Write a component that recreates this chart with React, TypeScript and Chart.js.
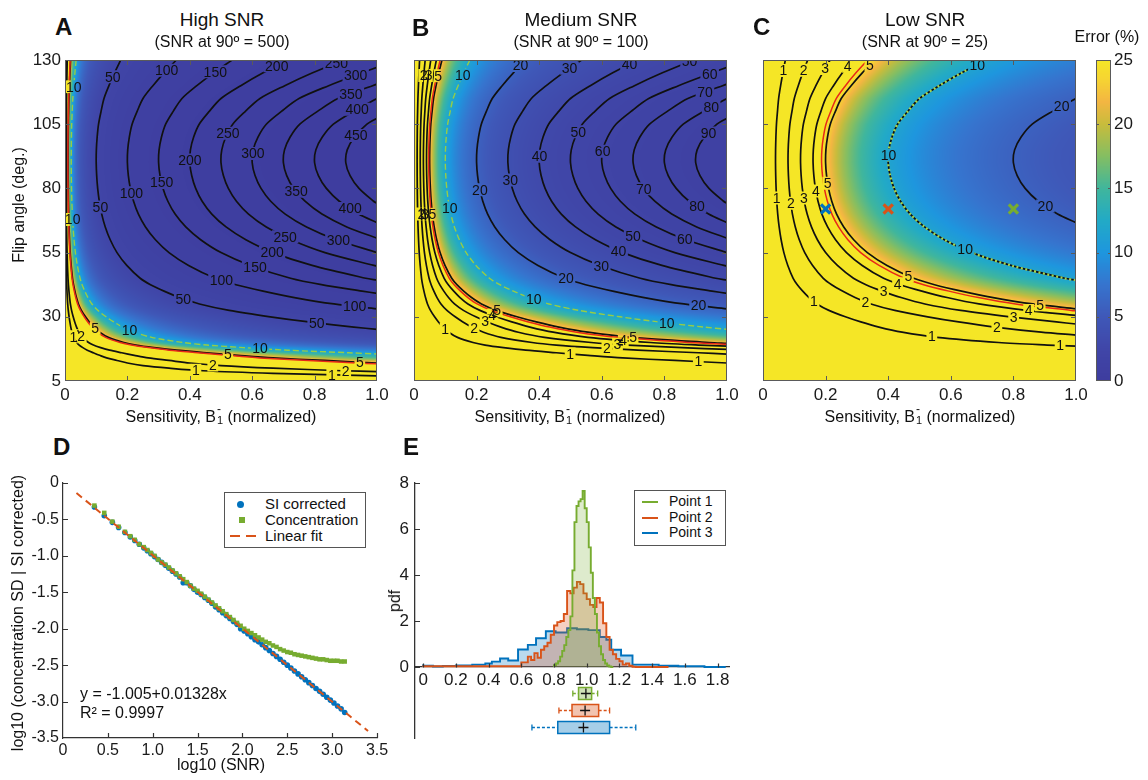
import React, { useEffect, useRef } from "react";
import { Chart, registerables } from "chart.js";

Chart.register(...registerables);

const FONT = '"Liberation Sans", Arial, Helvetica, sans-serif';
Chart.defaults.font.family = FONT;
Chart.defaults.color = "#1a1a1a";

/* ================= DATA: panels A–C (SNR maps) ================= */
const flipAngles = [5, 6, 7, 8, 9, 10, 11, 12, 13, 14, 15, 16, 17, 18, 19, 20, 22, 24, 26, 28, 30, 32.5, 35, 37.5, 40, 42.5, 45, 50, 55, 60, 65, 70, 75, 80, 85, 90, 95, 100, 105, 110, 115, 120, 125, 130];
const b1Nodes = [0, 0.5, 1];

// SNR read at sensitivity B1 = 0.5 and B1 = 1.0 for every flip-angle row
const highSnrHalf = [0, 0.25, 0.5, 0.75, 1.13, 1.5, 2, 2.5, 3, 3.75, 4.5, 5.5, 7, 8.75, 11, 13.25, 18, 22.5, 27, 32, 38, 47.5, 58, 68, 78.75, 91.25, 103.75, 126.25, 150, 172.5, 193.75, 212.5, 227.5, 238.75, 246.25, 250, 248.75, 242.5, 232.5, 216.25, 200, 177.5, 157.5, 140];
const highSnrFull = [0, 0.5, 1, 1.5, 2.25, 3, 4, 5, 6, 7.5, 9, 11, 14, 17.5, 22, 26.5, 36, 45, 54, 64, 76, 95, 116, 136, 157.5, 182.5, 207.5, 252.5, 300, 345, 387.5, 425, 455, 477.5, 492.5, 500, 497.5, 485, 465, 432.5, 400, 355, 315, 280];
const mediumSnrHalf = [0, 0.05, 0.1, 0.15, 0.23, 0.3, 0.4, 0.5, 0.6, 0.75, 0.9, 1.1, 1.4, 1.75, 2.2, 2.65, 3.6, 4.5, 5.4, 6.4, 7.6, 9.5, 11.6, 13.6, 15.75, 18.25, 20.75, 25.25, 30, 34.5, 38.75, 42.5, 45.5, 47.75, 49.25, 50, 49.75, 48.5, 46.5, 43.25, 40, 35.5, 31.5, 28];
const mediumSnrFull = [0, 0.1, 0.2, 0.3, 0.45, 0.6, 0.8, 1, 1.2, 1.5, 1.8, 2.2, 2.8, 3.5, 4.4, 5.3, 7.2, 9, 10.8, 12.8, 15.2, 19, 23.2, 27.2, 31.5, 36.5, 41.5, 50.5, 60, 69, 77.5, 85, 91, 95.5, 98.5, 100, 99.5, 97, 93, 86.5, 80, 71, 63, 56];
const lowSnrHalf = [0, 0.013, 0.025, 0.038, 0.056, 0.075, 0.1, 0.125, 0.15, 0.188, 0.225, 0.275, 0.35, 0.438, 0.55, 0.663, 0.9, 1.125, 1.35, 1.6, 1.9, 2.375, 2.9, 3.4, 3.94, 4.56, 5.19, 6.31, 7.5, 8.63, 9.69, 10.63, 11.38, 11.94, 12.31, 12.5, 12.44, 12.13, 11.63, 10.81, 10, 8.88, 7.88, 7];
const lowSnrFull = [0, 0.025, 0.05, 0.075, 0.11, 0.15, 0.2, 0.25, 0.3, 0.375, 0.45, 0.55, 0.7, 0.875, 1.1, 1.33, 1.8, 2.25, 2.7, 3.2, 3.8, 4.75, 5.8, 6.8, 7.88, 9.13, 10.38, 12.63, 15, 17.25, 19.38, 21.25, 22.75, 23.88, 24.63, 25, 24.88, 24.25, 23.25, 21.63, 20, 17.75, 15.75, 14];

const highLevels = [1, 2, 5, 10, 50, 100, 150, 200, 250, 300, 350, 400, 450];
const mediumLevels = [1, 2, 3, 4, 5, 10, 20, 30, 40, 50, 60, 70, 80, 90];
const lowLevels = [1, 2, 3, 4, 5, 10, 20];

const errorTimesSnr = 117; // Error (%) x SNR
const errorCap = 25; // colour scale top (%)

// contour label spots: [level, B1, flip angle]
const highLabelSpots = [
  [50, 0.154, 123.4], [100, 0.337, 124.7], [150, 0.486, 124.7], [200, 0.684, 126.5], [250, 0.876, 127], [300, 0.935, 123], [350, 0.919, 116], [400, 0.94, 110], [450, 0.94, 99.7],
  [250, 0.529, 101], [200, 0.406, 91], [300, 0.609, 93.5], [150, 0.315, 82.4], [100, 0.219, 78.5], [350, 0.737, 78.5], [50, 0.112, 72.7], [10, 0.037, 119.5], [10, 0.037, 68],
  [400, 0.913, 72], [300, 0.876, 59.7], [250, 0.705, 61], [200, 0.662, 54.7], [150, 0.609, 49.4], [100, 0.502, 44.5], [50, 0.379, 37.1], [100, 0.929, 34.5], [50, 0.807, 28],
  [10, 0.208, 25.2], [10, 0.625, 17.8], [5, 0.1, 26], [2, 0.064, 23.6], [1, 0.026, 22.2], [5, 0.523, 16.4], [2, 0.475, 13.2], [1, 0.42, 10], [5, 0.945, 12.5], [2, 0.9, 10.5], [1, 0.855, 7.3],
];
const mediumLabelSpots = [
  [20, 0.349, 126.8], [30, 0.504, 125.5], [40, 0.695, 126.8], [50, 0.887, 127.4], [60, 0.946, 124.2], [70, 0.93, 117.3], [80, 0.951, 111.3], [90, 0.94, 101.7], [10, 0.168, 123.5],
  [50, 0.53, 101.7], [40, 0.403, 92.5], [60, 0.61, 94.4], [30, 0.312, 83.4], [20, 0.211, 79.5], [70, 0.722, 78.5], [10, 0.115, 72.4], [80, 0.898, 71.8],
  [50, 0.695, 60.4], [60, 0.86, 58.8], [40, 0.648, 54.3], [30, 0.594, 48.2], [20, 0.482, 43.5], [20, 0.908, 33.2], [10, 0.381, 36.2], [10, 0.807, 26.7],
  [5, 0.264, 31.7], [4, 0.248, 30.1], [3, 0.227, 28.4], [2, 0.195, 26.5], [1, 0.094, 24.5], [5, 0.7, 22.3], [4, 0.668, 20], [3, 0.65, 19], [2, 0.616, 17.1], [1, 0.498, 14.2], [1, 0.908, 11.6],
  [2, 0.029, 124], [3, 0.043, 124], [5, 0.071, 124], [2, 0.026, 70], [3, 0.038, 70], [5, 0.06, 70],
];
const lowLabelSpots = [
  [1, 0.06, 126], [2, 0.14, 125.5], [3, 0.209, 126], [4, 0.278, 126.8], [5, 0.352, 126.8], [10, 0.688, 127.4], [20, 0.954, 112], [10, 0.4, 93],
  [5, 0.203, 81.9], [4, 0.166, 78.9], [3, 0.134, 76.3], [2, 0.097, 74.4], [1, 0.042, 76.3], [20, 0.896, 72], [10, 0.64, 54.7],
  [5, 0.464, 45.9], [4, 0.427, 42], [3, 0.384, 39.4], [2, 0.326, 35.5], [1, 0.156, 34.9], [1, 0.539, 22], [5, 0.885, 34.2], [4, 0.848, 31.6], [3, 0.8, 29], [2, 0.747, 25.8], [1, 0.949, 18.1],
];

// sampled points in panel C (Point 1, 2, 3)
const pointNames = ["Point 1", "Point 2", "Point 3"];
const pointB1 = [0.8, 0.4, 0.2];
const pointFlip = [72, 72, 72];

/* ================= DATA: panel D ================= */
const logSnr = [0.35, 0.46, 0.55, 0.62, 0.69, 0.75, 0.8, 0.85, 0.9, 0.94, 0.98, 1.02, 1.06, 1.1, 1.14, 1.18, 1.22, 1.26, 1.3, 1.34, 1.38, 1.42, 1.46, 1.5, 1.54, 1.58, 1.62, 1.66, 1.7, 1.74, 1.78, 1.82, 1.86, 1.9, 1.94, 1.98, 2.02, 2.06, 2.1, 2.14, 2.18, 2.22, 2.26, 2.3, 2.34, 2.38, 2.42, 2.46, 2.5, 2.54, 2.58, 2.62, 2.66, 2.7, 2.74, 2.78, 2.82, 2.86, 2.9, 2.94, 2.98, 3.02, 3.06, 3.1, 3.14];
const siCorrected = [-0.33, -0.45, -0.54, -0.61, -0.68, -0.74, -0.79, -0.84, -0.89, -0.93, -0.97, -1.01, -1.05, -1.09, -1.13, -1.17, -1.21, -1.25, -1.29, -1.37, -1.37, -1.41, -1.46, -1.5, -1.53, -1.57, -1.61, -1.65, -1.7, -1.74, -1.78, -1.82, -1.86, -1.9, -1.94, -2.0, -2.03, -2.07, -2.11, -2.15, -2.18, -2.22, -2.26, -2.3, -2.34, -2.38, -2.42, -2.46, -2.5, -2.54, -2.58, -2.62, -2.66, -2.7, -2.74, -2.78, -2.82, -2.86, -2.9, -2.94, -2.98, -3.02, -3.06, -3.1, -3.15];
const concentration = [-0.31, -0.41, -0.53, -0.6, -0.67, -0.73, -0.78, -0.84, -0.88, -0.92, -0.96, -1.0, -1.05, -1.09, -1.12, -1.16, -1.2, -1.24, -1.28, -1.32, -1.36, -1.41, -1.45, -1.48, -1.52, -1.56, -1.6, -1.64, -1.68, -1.72, -1.76, -1.8, -1.84, -1.88, -1.92, -1.96, -2.0, -2.03, -2.06, -2.09, -2.12, -2.15, -2.18, -2.2, -2.23, -2.25, -2.28, -2.3, -2.32, -2.33, -2.35, -2.36, -2.37, -2.38, -2.39, -2.4, -2.41, -2.42, -2.42, -2.43, -2.44, -2.44, -2.44, -2.45, -2.45];
const fitLogSnr = [0.15, 3.4];
const fitValues = [-0.138, -3.404];
const fitEquation = "y = -1.005+0.01328x";
const fitR2 = "R² = 0.9997";

/* ================= DATA: panel E ================= */
const p1Edges = [0.8, 0.8125, 0.825, 0.8375, 0.85, 0.8625, 0.875, 0.8875, 0.9, 0.9125, 0.925, 0.9375, 0.95, 0.9625, 0.975, 0.9875, 1.0, 1.0125, 1.025, 1.0375, 1.05, 1.0625, 1.075, 1.0875, 1.1, 1.1125, 1.125, 1.1375, 1.15];
const p1Heights = [0.03, 0.08, 0.15, 0.25, 0.45, 0.7, 0.95, 1.3, 1.6, 2.2, 4.2, 6.3, 7.0, 7.2, 7.3, 7.65, 6.9, 6.3, 5.2, 4.1, 3.0, 2.3, 1.5, 0.9, 0.55, 0.3, 0.15, 0.06, 0.02];
const p1End = 1.1625;
const p2Edges = [0.0, 0.6, 0.64, 0.66, 0.68, 0.7, 0.72, 0.74, 0.76, 0.78, 0.8, 0.82, 0.84, 0.86, 0.88, 0.9, 0.92, 0.94, 0.96, 0.98, 1.0, 1.02, 1.04, 1.06, 1.08, 1.1, 1.12, 1.14, 1.16, 1.18, 1.2, 1.22, 1.24, 1.26, 1.28, 1.3];
const p2Heights = [0.01, 0.03, 0.2, 0.45, 0.3, 0.6, 0.4, 0.75, 0.9, 1.05, 1.4, 1.8, 1.95, 2.0, 2.3, 3.3, 3.2, 3.45, 3.7, 3.6, 3.2, 2.95, 2.7, 2.6, 3.0, 2.8, 1.9, 1.3, 0.75, 0.55, 0.35, 0.25, 0.1, 0.15, 0.05, 0.01];
const p2End = 1.5;
const p3Edges = [0.0, 0.06, 0.12, 0.2, 0.3, 0.38, 0.42, 0.47, 0.52, 0.58, 0.64, 0.69, 0.75, 0.81, 0.88, 0.94, 1.01, 1.08, 1.12, 1.15, 1.21, 1.28, 1.44, 1.56, 1.72];
const p3Heights = [0.12, 0.05, 0.02, 0.04, 0.06, 0.1, 0.15, 0.23, 0.37, 0.28, 0.76, 0.96, 1.25, 1.55, 1.5, 1.68, 1.64, 1.6, 1.3, 1.18, 0.75, 0.5, 0.1, 0.05, 0.03];
const p3End = 1.85;
const histTicks = [0, 0.2, 0.4, 0.6, 0.8, 1.0, 1.2, 1.4, 1.6, 1.8];
const pdfTicks = [0, 2, 4, 6, 8];
// box plots (Point 1, 2, 3)
const boxLow = [0.915, 0.83, 0.665];
const boxQ1 = [0.95, 0.91, 0.823];
const boxMedian = [0.995, 0.99, 0.98];
const boxQ3 = [1.03, 1.073, 1.14];
const boxHigh = [1.067, 1.14, 1.3];

/* ================= styling ================= */
const pointColors = ["rgb(119,172,48)", "rgb(217,83,25)", "rgb(0,114,189)"];
const pointFills = ["rgba(119,172,48,0.24)", "rgba(217,83,25,0.27)", "rgba(0,114,189,0.27)"];
const boxFills = ["rgba(119,172,48,0.35)", "rgba(217,83,25,0.35)", "rgba(0,114,189,0.35)"];
const cmapStops = [
  [0.0, 62, 60, 158], [0.1, 64, 70, 168], [0.2, 63, 88, 184], [0.3, 54, 116, 206], [0.4, 30, 150, 222], [0.5, 34, 170, 198],
  [0.6, 64, 182, 156], [0.7, 132, 190, 98], [0.8, 200, 188, 60], [0.87, 243, 182, 66], [0.94, 246, 212, 50], [1.0, 245, 230, 38],
];

type P = { x: number; y: number };

function errorColor(t: number) {
  const v = Math.max(0, Math.min(1, t));
  for (let k = 0; k < cmapStops.length - 1; k++) {
    const a = cmapStops[k], b = cmapStops[k + 1];
    if (v <= b[0]) {
      const f = (v - a[0]) / (b[0] - a[0]);
      return [a[1] + (b[1] - a[1]) * f, a[2] + (b[2] - a[2]) * f, a[3] + (b[3] - a[3]) * f];
    }
  }
  const l = cmapStops[cmapStops.length - 1];
  return [l[1], l[2], l[3]];
}

function snrGrid(half: number[], full: number[]) {
  return flipAngles.map((_, i) => [0, half[i], full[i]]);
}

function locate(nodes: number[], v: number): [number, number] {
  let i = 0;
  while (i < nodes.length - 2 && v > nodes[i + 1]) i++;
  const t = Math.max(0, Math.min(1, (v - nodes[i]) / (nodes[i + 1] - nodes[i])));
  return [i, t];
}

function sampleSnr(grid: number[][], b1: number, flip: number) {
  const [r, tr] = locate(flipAngles, flip);
  const [c, tc] = locate(b1Nodes, b1);
  const lo = grid[r][c] * (1 - tc) + grid[r][c + 1] * tc;
  const hi = grid[r + 1][c] * (1 - tc) + grid[r + 1][c + 1] * tc;
  return lo * (1 - tr) + hi * tr;
}

function traceContour(level: number, grid: number[][]): P[][] {
  const last = b1Nodes.length - 1;
  const segs: P[][] = [];
  let cur: P[] | null = null;
  const cross = (row: number[]) => {
    for (let c = 0; c < last; c++) {
      const v0 = row[c], v1 = row[c + 1];
      if (v1 !== v0 && (level - v0) * (level - v1) <= 0) return b1Nodes[c] + ((level - v0) / (v1 - v0)) * (b1Nodes[c + 1] - b1Nodes[c]);
    }
    return null;
  };
  const edge = (r1: number, r2: number) => {
    const v1 = grid[r1][last], v2 = grid[r2][last];
    return flipAngles[r1] + ((level - v1) / (v2 - v1)) * (flipAngles[r2] - flipAngles[r1]);
  };
  for (let r = flipAngles.length - 1; r >= 0; r--) {
    const x = cross(grid[r]);
    if (x !== null) {
      if (!cur) {
        cur = [];
        if (r < flipAngles.length - 1) cur.push({ x: b1Nodes[last], y: edge(r + 1, r) });
      }
      cur.push({ x, y: flipAngles[r] });
    } else if (cur) {
      cur.push({ x: b1Nodes[last], y: edge(r + 1, r) });
      segs.push(cur);
      cur = null;
    }
  }
  if (cur) segs.push(cur);
  return segs;
}

function snap(segs: P[][], px: number, py: number, xs: any, ys: any) {
  let best = { d: Infinity, x: px, y: py };
  for (const seg of segs) {
    for (let k = 0; k < seg.length - 1; k++) {
      const x1 = xs.getPixelForValue(seg[k].x), y1 = ys.getPixelForValue(seg[k].y);
      const x2 = xs.getPixelForValue(seg[k + 1].x), y2 = ys.getPixelForValue(seg[k + 1].y);
      const dx = x2 - x1, dy = y2 - y1;
      const len2 = dx * dx + dy * dy;
      let t = len2 > 0 ? ((px - x1) * dx + (py - y1) * dy) / len2 : 0;
      t = Math.max(0, Math.min(1, t));
      const qx = x1 + t * dx, qy = y1 + t * dy;
      const d = (qx - px) ** 2 + (qy - py) ** 2;
      if (d < best.d) best = { d, x: qx, y: qy };
    }
  }
  return best;
}

const fmt1 = (v: any) => (Math.abs(Number(v)) < 1e-9 ? "0" : Number(v).toFixed(1));

function drawFrame(chart: any) {
  const { ctx, chartArea: a } = chart;
  const xs = chart.scales.x, ys = chart.scales.y;
  ctx.save();
  ctx.strokeStyle = "#5a5a5a";
  ctx.lineWidth = 1;
  ctx.strokeRect(a.left + 0.5, a.top + 0.5, a.right - a.left - 1, a.bottom - a.top - 1);
  ctx.beginPath();
  xs.ticks.forEach((t: any) => {
    const p = Math.round(xs.getPixelForValue(t.value)) + 0.5;
    if (p < a.left + 2 || p > a.right - 2) return;
    ctx.moveTo(p, a.bottom); ctx.lineTo(p, a.bottom - 5);
    ctx.moveTo(p, a.top); ctx.lineTo(p, a.top + 5);
  });
  ys.ticks.forEach((t: any) => {
    const p = Math.round(ys.getPixelForValue(t.value)) + 0.5;
    if (p < a.top + 2 || p > a.bottom - 2) return;
    ctx.moveTo(a.left, p); ctx.lineTo(a.left + 5, p);
    ctx.moveTo(a.right, p); ctx.lineTo(a.right - 5, p);
  });
  ctx.stroke();
  ctx.restore();
}

const heatPanels = [
  { key: "A", half: highSnrHalf, full: highSnrFull, levels: highLevels, labels: highLabelSpots, yLabels: true, blackTen: false, markers: false,
    canvas: { left: 0, top: 40, width: 400, height: 390 }, area: { left: 65, top: 60, right: 377, bottom: 381 } },
  { key: "B", half: mediumSnrHalf, full: mediumSnrFull, levels: mediumLevels, labels: mediumLabelSpots, yLabels: false, blackTen: false, markers: false,
    canvas: { left: 395, top: 40, width: 350, height: 390 }, area: { left: 414, top: 60, right: 727, bottom: 381 } },
  { key: "C", half: lowSnrHalf, full: lowSnrFull, levels: lowLevels, labels: lowLabelSpots, yLabels: false, blackTen: true, markers: true,
    canvas: { left: 745, top: 40, width: 350, height: 390 }, area: { left: 763, top: 60, right: 1076, bottom: 381 } },
];

function makeHeatChart(canvas: HTMLCanvasElement, p: any) {
  const grid = snrGrid(p.half, p.full);
  const segsByLevel = new Map<number, P[][]>();
  p.levels.forEach((l: number) => segsByLevel.set(l, traceContour(l, grid)));
  const redSegs = traceContour(errorTimesSnr / errorCap, grid);
  const line = (seg: P[], color: string, width: number, dash: number[] = []) => ({
    data: seg, borderColor: color, borderWidth: width, borderDash: dash, pointRadius: 0, tension: 0.3, fill: false, clip: 0,
  });
  const datasets: any[] = [];
  if (p.markers) {
    pointB1.forEach((b, i) =>
      datasets.push({ data: [{ x: b, y: pointFlip[i] }], showLine: false, pointStyle: "crossRot", pointRadius: 6.5, pointBorderWidth: 3.2,
        pointBorderColor: pointColors[i], borderColor: pointColors[i], backgroundColor: pointColors[i] })
    );
  }
  const tenSegs = segsByLevel.get(10) || [];
  tenSegs.forEach((s) => datasets.push(p.blackTen ? line(s, "rgb(165,212,80)", 2.4, [2, 2.5]) : line(s, "rgb(150,205,70)", 1.4, [6, 3])));
  redSegs.forEach((s) => datasets.push(line(s, "rgb(232,40,25)", 1.5)));
  p.levels.forEach((l: number) => {
    if (l === 10 && !p.blackTen) return;
    (segsByLevel.get(l) || []).forEach((s) => datasets.push(line(s, "#111", 1.7)));
  });

  let boxes: any[] = [];
  const plugin = {
    id: "heat" + p.key,
    beforeDatasetsDraw(chart: any) {
      const { ctx, chartArea: a } = chart;
      const xs = chart.scales.x, ys = chart.scales.y;
      const L = Math.round(a.left), T = Math.round(a.top);
      const W = Math.round(a.right) - L, H = Math.round(a.bottom) - T;
      const off = document.createElement("canvas");
      off.width = W; off.height = H;
      const octx = off.getContext("2d")!;
      const img = octx.createImageData(W, H);
      for (let j = 0; j < H; j++) {
        const flip = ys.getValueForPixel(T + j + 0.5);
        for (let i = 0; i < W; i++) {
          const snr = sampleSnr(grid, xs.getValueForPixel(L + i + 0.5), flip);
          const err = snr > 0 ? Math.min(errorCap, errorTimesSnr / snr) : errorCap;
          const c = errorColor(err / errorCap);
          const k = (j * W + i) * 4;
          img.data[k] = c[0]; img.data[k + 1] = c[1]; img.data[k + 2] = c[2]; img.data[k + 3] = 255;
        }
      }
      octx.putImageData(img, 0, 0);
      ctx.drawImage(off, L, T);
      ctx.font = `14px ${FONT}`;
      boxes = p.labels.map((spot: number[]) => {
        const [lvl, b, f] = spot;
        const s = snap(segsByLevel.get(lvl) || [], xs.getPixelForValue(b), ys.getPixelForValue(f), xs, ys);
        const text = String(lvl);
        return { x: s.x, y: s.y, w: ctx.measureText(text).width + 3, h: 13, text };
      });
      ctx.save();
      ctx.beginPath();
      ctx.rect(a.left - 3, a.top - 3, a.right - a.left + 6, a.bottom - a.top + 6);
      boxes.forEach((bx) => ctx.rect(bx.x - bx.w / 2, bx.y - bx.h / 2, bx.w, bx.h));
      ctx.clip("evenodd");
    },
    afterDatasetsDraw(chart: any) {
      const { ctx, chartArea: a } = chart;
      ctx.restore();
      ctx.save();
      ctx.beginPath();
      ctx.rect(a.left, a.top, a.right - a.left, a.bottom - a.top);
      ctx.clip();
      ctx.fillStyle = "#111";
      ctx.font = `14px ${FONT}`;
      ctx.textAlign = "center";
      ctx.textBaseline = "middle";
      boxes.forEach((bx) => ctx.fillText(bx.text, bx.x, bx.y + 1));
      ctx.restore();
      drawFrame(chart);
    },
  };

  const cv = p.canvas, ar = p.area;
  return new Chart(canvas, {
    type: "line",
    data: { datasets },
    options: {
      responsive: false, animation: false, events: [],
      layout: { padding: { top: ar.top - cv.top, right: cv.left + cv.width - ar.right, left: 0, bottom: 0 } },
      plugins: { legend: { display: false }, tooltip: { enabled: false } },
      scales: {
        x: {
          type: "linear", min: 0, max: 1,
          ticks: { stepSize: 0.2, padding: 4, font: { size: 17 }, color: "#1a1a1a", maxRotation: 0, autoSkip: false, callback: fmt1 },
          grid: { display: false, drawTicks: false }, border: { display: false },
          afterFit: (s: any) => { s.height = cv.top + cv.height - ar.bottom; },
        },
        y: {
          type: "linear", min: 5, max: 130,
          ticks: { stepSize: 25, padding: 4, font: { size: 17 }, color: "#1a1a1a", display: p.yLabels },
          grid: { display: false, drawTicks: false }, border: { display: false },
          afterFit: (s: any) => { s.width = ar.left - cv.left; },
        },
      },
    } as any,
    plugins: [plugin],
  } as any);
}

function makeColorbar(canvas: HTMLCanvasElement) {
  const plugin = {
    id: "colorbar",
    afterDraw(chart: any) {
      const { ctx, chartArea: a } = chart;
      const ys = chart.scales.y;
      for (let py = Math.floor(a.top); py < Math.ceil(a.bottom); py++) {
        const c = errorColor(ys.getValueForPixel(py + 0.5) / errorCap);
        ctx.fillStyle = `rgb(${c[0]},${c[1]},${c[2]})`;
        ctx.fillRect(a.left, py, a.right - a.left, 1);
      }
      ctx.save();
      ctx.strokeStyle = "#5a5a5a";
      ctx.lineWidth = 1;
      ctx.strokeRect(a.left + 0.5, a.top + 0.5, a.right - a.left - 1, a.bottom - a.top - 1);
      ctx.beginPath();
      ys.ticks.forEach((t: any) => {
        const p = Math.round(ys.getPixelForValue(t.value)) + 0.5;
        if (p < a.top + 2 || p > a.bottom - 2) return;
        ctx.moveTo(a.left, p); ctx.lineTo(a.left + 3, p);
        ctx.moveTo(a.right, p); ctx.lineTo(a.right - 3, p);
      });
      ctx.stroke();
      ctx.restore();
    },
  };
  return new Chart(canvas, {
    type: "line",
    data: { datasets: [] },
    options: {
      responsive: false, animation: false, events: [],
      layout: { padding: { top: 20, bottom: 29, left: 11, right: 0 } },
      plugins: { legend: { display: false }, tooltip: { enabled: false } },
      scales: {
        x: { type: "linear", display: false, min: 0, max: 1 },
        y: {
          type: "linear", position: "right", min: 0, max: errorCap,
          ticks: { stepSize: 5, padding: 3, font: { size: 17 }, color: "#1a1a1a" },
          grid: { display: false, drawTicks: false }, border: { display: false },
          afterFit: (s: any) => { s.width = 37; },
        },
      },
    } as any,
    plugins: [plugin],
  } as any);
}

const pts = (xs: number[], ys: number[]) => xs.map((x, i) => ({ x, y: ys[i] }));

function makeSnrFit(canvas: HTMLCanvasElement) {
  const ticksPlugin = {
    id: "ticksD",
    afterDraw(chart: any) {
      const { ctx, chartArea: a } = chart;
      const xs = chart.scales.x, ys = chart.scales.y;
      ctx.save();
      ctx.strokeStyle = "#333";
      ctx.lineWidth = 1.2;
      ctx.beginPath();
      xs.ticks.forEach((t: any) => {
        const p = Math.round(xs.getPixelForValue(t.value)) + 0.5;
        if (p < a.left + 2) return;
        ctx.moveTo(p, a.bottom); ctx.lineTo(p, a.bottom - 5);
      });
      ys.ticks.forEach((t: any) => {
        const p = Math.round(ys.getPixelForValue(t.value)) + 0.5;
        if (p > a.bottom - 2) return;
        ctx.moveTo(a.left, p); ctx.lineTo(a.left + 5, p);
      });
      ctx.stroke();
      ctx.restore();
    },
  };
  return new Chart(canvas, {
    type: "line",
    data: {
      datasets: [
        { label: "Linear fit", data: pts(fitLogSnr, fitValues), borderColor: pointColors[1], borderWidth: 2, borderDash: [7, 5], pointRadius: 0, fill: false },
        { label: "Concentration", data: pts(logSnr, concentration), showLine: false, pointStyle: "rect", pointRadius: 3.2, pointBorderWidth: 0, backgroundColor: pointColors[0], borderColor: pointColors[0] },
        { label: "SI corrected", data: pts(logSnr, siCorrected), showLine: false, pointStyle: "circle", pointRadius: 2.8, pointBorderWidth: 0, backgroundColor: pointColors[2], borderColor: pointColors[2] },
      ],
    },
    options: {
      responsive: false, animation: false, events: [],
      layout: { padding: { top: 23, right: 23, left: 0, bottom: 0 } },
      plugins: { legend: { display: false }, tooltip: { enabled: false } },
      scales: {
        x: {
          type: "linear", min: 0, max: 3.5,
          ticks: { stepSize: 0.5, padding: 3, font: { size: 16 }, color: "#1a1a1a", maxRotation: 0, autoSkip: false, callback: fmt1 },
          grid: { display: false, drawTicks: false }, border: { display: true, color: "#333", width: 1.2 },
          afterFit: (s: any) => { s.height = 42; },
        },
        y: {
          type: "linear", min: -3.5, max: 0,
          ticks: { stepSize: 0.5, padding: 4, font: { size: 16 }, color: "#1a1a1a", callback: fmt1 },
          grid: { display: false, drawTicks: false }, border: { display: true, color: "#333", width: 1.2 },
          afterFit: (s: any) => { s.width = 63; },
        },
      },
    } as any,
    plugins: [ticksPlugin],
  } as any);
}

function makeHistogram(canvas: HTMLCanvasElement) {
  const stepPts = (edges: number[], heights: number[], end: number) => [
    { x: edges[0], y: 0 }, ...edges.map((e, i) => ({ x: e, y: heights[i] })), { x: end, y: 0 },
  ];
  const boxRowsY = [-1.13, -1.87, -2.6];
  const plugin = {
    id: "boxesE",
    afterDatasetsDraw(chart: any) {
      const { ctx, chartArea: a } = chart;
      const xs = chart.scales.x, ys = chart.scales.y;
      const px = (v: number) => xs.getPixelForValue(v);
      ctx.save();
      ctx.strokeStyle = "#333";
      ctx.lineWidth = 1.2;
      ctx.beginPath();
      const y0 = Math.round(ys.getPixelForValue(0)) + 0.5;
      histTicks.forEach((v) => { const p = Math.round(px(v)) + 0.5; ctx.moveTo(p, y0); ctx.lineTo(p, y0 - 4); });
      pdfTicks.forEach((v) => { const p = Math.round(ys.getPixelForValue(v)) + 0.5; ctx.moveTo(a.left, p); ctx.lineTo(a.left + 5, p); });
      ctx.stroke();
      boxMedian.forEach((_, i) => {
        const yc = Math.round(ys.getPixelForValue(boxRowsY[i])) + 0.5;
        ctx.strokeStyle = pointColors[i];
        ctx.lineWidth = 1.3;
        ctx.setLineDash([3, 2]);
        ctx.beginPath();
        ctx.moveTo(px(boxLow[i]), yc); ctx.lineTo(px(boxQ1[i]), yc);
        ctx.moveTo(px(boxQ3[i]), yc); ctx.lineTo(px(boxHigh[i]), yc);
        ctx.stroke();
        ctx.setLineDash([]);
        ctx.beginPath();
        ctx.moveTo(px(boxLow[i]), yc - 3); ctx.lineTo(px(boxLow[i]), yc + 3);
        ctx.moveTo(px(boxHigh[i]), yc - 3); ctx.lineTo(px(boxHigh[i]), yc + 3);
        ctx.stroke();
        const x1 = px(boxQ1[i]), x2 = px(boxQ3[i]);
        ctx.fillStyle = boxFills[i];
        ctx.fillRect(x1, yc - 6, x2 - x1, 12);
        ctx.lineWidth = 1.5;
        ctx.strokeRect(x1, yc - 6, x2 - x1, 12);
        const m = px(boxMedian[i]);
        ctx.strokeStyle = "#111";
        ctx.lineWidth = 1.3;
        ctx.beginPath();
        ctx.moveTo(m - 5, yc); ctx.lineTo(m + 5, yc);
        ctx.moveTo(m, yc - 5); ctx.lineTo(m, yc + 5);
        ctx.stroke();
      });
      ctx.restore();
    },
  };
  const hist = (i: number, data: P[]) => ({
    label: pointNames[i], data, stepped: "after", fill: "origin", borderColor: pointColors[i], backgroundColor: pointFills[i], borderWidth: 1.9, pointRadius: 0,
  });
  return new Chart(canvas, {
    type: "line",
    data: {
      datasets: [
        hist(0, stepPts(p1Edges, p1Heights, p1End)),
        hist(1, stepPts(p2Edges, p2Heights, p2End)),
        hist(2, stepPts(p3Edges, p3Heights, p3End)),
      ],
    },
    options: {
      responsive: false, animation: false, events: [],
      layout: { padding: { top: 23, right: 31, left: 0, bottom: 42 } },
      plugins: { legend: { display: false }, tooltip: { enabled: false } },
      scales: {
        x: {
          type: "linear", min: -0.05, max: 1.87, position: { y: 0 },
          afterBuildTicks: (s: any) => { s.ticks = histTicks.map((v) => ({ value: v })); },
          ticks: { padding: 3, font: { size: 17 }, color: "#1a1a1a", maxRotation: 0, autoSkip: false, callback: fmt1 },
          grid: { display: false, drawTicks: false }, border: { display: true, color: "#333", width: 1.3 },
        },
        y: {
          type: "linear", min: -3.09, max: 8,
          afterBuildTicks: (s: any) => { s.ticks = pdfTicks.map((v) => ({ value: v })); },
          ticks: { padding: 6, font: { size: 17 }, color: "#1a1a1a", callback: (v: any) => String(v) },
          grid: { display: false, drawTicks: false }, border: { display: true, color: "#333", width: 1.3 },
          afterFit: (s: any) => { s.width = 25; },
        },
      },
    } as any,
    plugins: [plugin],
  } as any);
}

function ChartCanvas({ box, build }: any) {
  const ref = useRef<HTMLCanvasElement>(null);
  useEffect(() => {
    const c = build(ref.current);
    return () => c.destroy();
  }, []);
  return <canvas ref={ref} width={box.width} height={box.height} style={{ position: "absolute", left: box.left, top: box.top, width: box.width, height: box.height }} />;
}

function Txt({ x, y, size = 16, weight = 400, center = false, children }: any) {
  return (
    <div style={{ position: "absolute", left: x, top: y - 0.8465 * size, fontSize: size, lineHeight: `${size}px`, fontWeight: weight, whiteSpace: "nowrap", color: "#111", transform: center ? "translateX(-50%)" : undefined }}>
      {children}
    </div>
  );
}
function VTxt({ x, y, size = 16, children }: any) {
  return (
    <div style={{ position: "absolute", left: x, top: y, fontSize: size, lineHeight: `${size}px`, whiteSpace: "nowrap", color: "#111", transform: "translate(-50%, -50%) rotate(-90deg)" }}>
      {children}
    </div>
  );
}
const B1minus = (
  <span>
    B
    <span style={{ display: "inline-block", position: "relative", width: 7, height: 16 }}>
      <span style={{ position: "absolute", left: 1, top: -3, fontSize: 12, lineHeight: "12px" }}>-</span>
      <span style={{ position: "absolute", left: 1, top: 9, fontSize: 11, lineHeight: "11px" }}>1</span>
    </span>
  </span>
);

export default function App() {
  const titles = [
    { letter: "A", lx: 55, lb: 35, cx: 222, main: "High SNR", sub: "(SNR at 90º = 500)", xt: 221 },
    { letter: "B", lx: 412, lb: 36, cx: 581, main: "Medium SNR", sub: "(SNR at 90º = 100)", xt: 570 },
    { letter: "C", lx: 753, lb: 35, cx: 925, main: "Low SNR", sub: "(SNR at 90º = 25)", xt: 920 },
  ];
  return (
    <div style={{ position: "absolute", left: 0, top: 0, width: 1148, height: 780, overflow: "hidden", background: "#fff", fontFamily: FONT, color: "#111" }}>
      {heatPanels.map((p) => (
        <ChartCanvas key={p.key} box={p.canvas} build={(c: HTMLCanvasElement) => makeHeatChart(c, p)} />
      ))}
      <ChartCanvas box={{ left: 1085, top: 40, width: 63, height: 370 }} build={makeColorbar} />
      <ChartCanvas box={{ left: 0, top: 460, width: 400, height: 320 }} build={makeSnrFit} />
      <ChartCanvas box={{ left: 390, top: 460, width: 370, height: 320 }} build={makeHistogram} />

      {titles.map((t) => (
        <React.Fragment key={t.letter}>
          <Txt x={t.lx} y={t.lb} size={24} weight={700}>{t.letter}</Txt>
          <Txt x={t.cx} y={26} size={19} center>{t.main}</Txt>
          <Txt x={t.cx} y={48} size={16} center>{t.sub}</Txt>
          <Txt x={t.xt} y={420} size={16} center>Sensitivity, {B1minus} (normalized)</Txt>
        </React.Fragment>
      ))}
      <VTxt x={19} y={205} size={16}>Flip angle (deg.)</VTxt>
      <Txt x={1107} y={43} size={16} center>Error (%)</Txt>

      {/* Panel D */}
      <Txt x={53} y={455} size={24} weight={700}>D</Txt>
      <VTxt x={18} y={613} size={16}>log10 (concentration SD | SI corrected)</VTxt>
      <Txt x={221} y={771} size={16} center>log10 (SNR)</Txt>
      <Txt x={80} y={700} size={16}>{fitEquation}</Txt>
      <Txt x={80} y={719} size={16}>{fitR2}</Txt>
      <div style={{ position: "absolute", left: 224, top: 492, width: 140, height: 54, border: "1.3px solid #555", background: "#fff" }} />
      <div style={{ position: "absolute", left: 237, top: 501, width: 7, height: 7, borderRadius: "50%", background: pointColors[2] }} />
      <div style={{ position: "absolute", left: 239, top: 517, width: 6, height: 6, background: pointColors[0] }} />
      <div style={{ position: "absolute", left: 230, top: 535, width: 10, height: 2, background: pointColors[1] }} />
      <div style={{ position: "absolute", left: 246, top: 535, width: 10, height: 2, background: pointColors[1] }} />
      <Txt x={265} y={509} size={15}>SI corrected</Txt>
      <Txt x={265} y={525} size={15}>Concentration</Txt>
      <Txt x={265} y={541} size={15}>Linear fit</Txt>

      {/* Panel E */}
      <Txt x={403} y={455} size={24} weight={700}>E</Txt>
      <VTxt x={395} y={601} size={16}>pdf</VTxt>
      <div style={{ position: "absolute", left: 634, top: 490, width: 90, height: 54, border: "1.3px solid #555", background: "#fff" }} />
      {pointNames.map((n, i) => (
        <React.Fragment key={n}>
          <div style={{ position: "absolute", left: 642, top: 501 + i * 15.5, width: 16, height: 2.2, background: pointColors[i] }} />
          <Txt x={669} y={506 + i * 15.5} size={14}>{n}</Txt>
        </React.Fragment>
      ))}
    </div>
  );
}
